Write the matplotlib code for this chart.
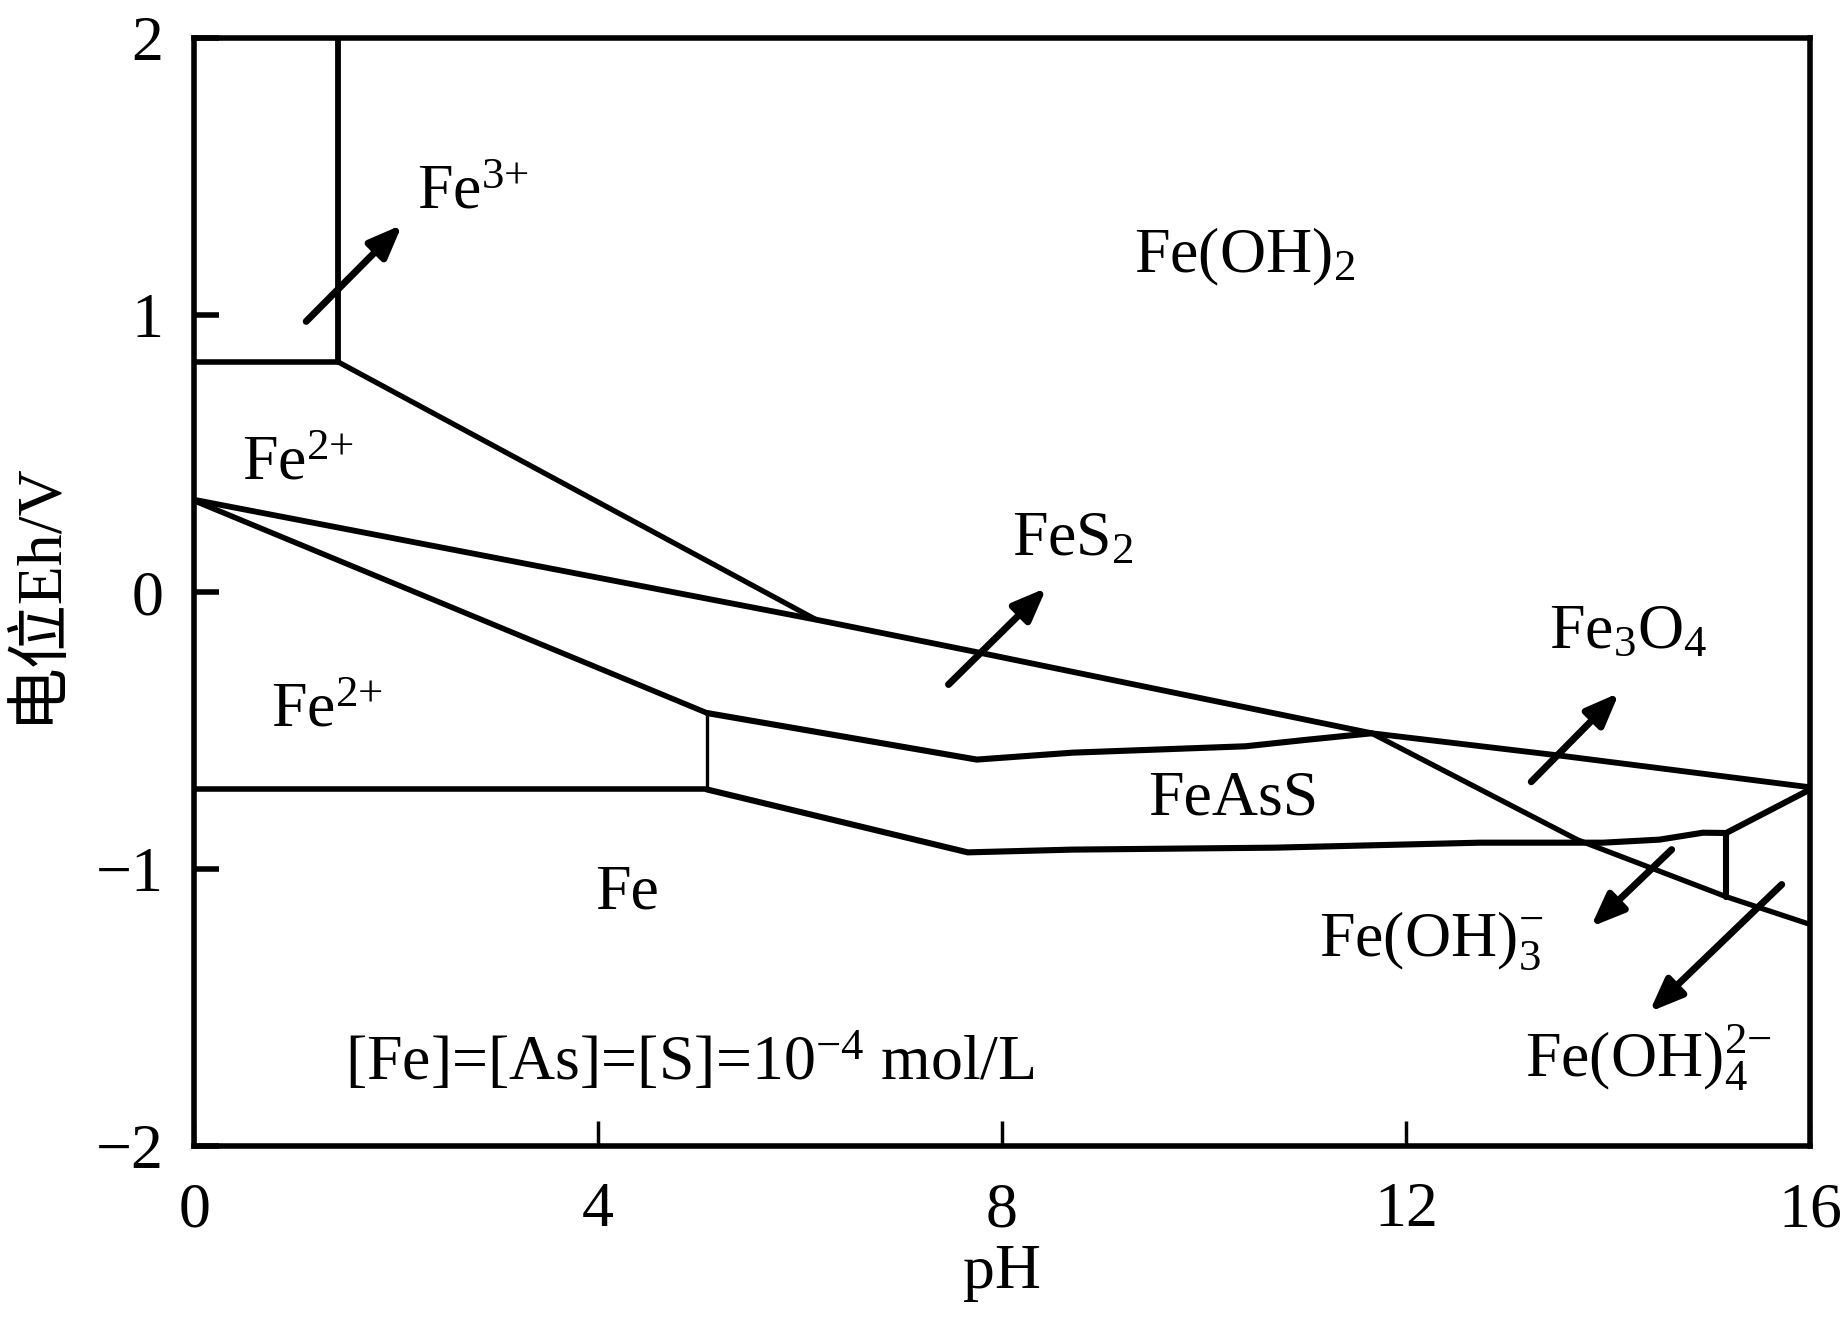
import numpy as np
import matplotlib.pyplot as plt

plt.rcParams['font.family'] = ['Liberation Serif', 'Noto Sans CJK SC']
plt.rcParams['mathtext.fontset'] = 'custom'
plt.rcParams['mathtext.rm'] = 'Liberation Serif'
plt.rcParams['mathtext.it'] = 'Liberation Serif:italic'

# boundary lines (pH, Eh/V)
fe3_vert_ph = [1.43, 1.43]
fe3_vert_eh = [2.0, 0.83]
fe3_horiz_ph = [0, 1.43]
fe3_horiz_eh = [0.83, 0.83]
fe3_diag_ph = [1.43, 6.16]
fe3_diag_eh = [0.83, -0.10]
upper_ph = [0, 6.16, 7.79, 11.66, 13.51, 16]
upper_eh = [0.333, -0.10, -0.22, -0.51, -0.59, -0.705]
fes2_low_ph = [0, 5.08]
fes2_low_eh = [0.33, -0.437]
fe2_vert_ph = [5.08, 5.08]
fe2_vert_eh = [-0.437, -0.713]
fe_horiz_ph = [0, 5.08]
fe_horiz_eh = [-0.713, -0.713]
feass_top_ph = [5.08, 7.75, 8.7, 10.41, 11.03, 11.66]
feass_top_eh = [-0.437, -0.605, -0.58, -0.557, -0.533, -0.51]
feass_bot_ph = [5.08, 7.66, 8.7, 10.7, 12.73, 13.95, 14.51, 14.94, 15.17, 16]
feass_bot_eh = [-0.713, -0.94, -0.93, -0.923, -0.905, -0.905, -0.894, -0.869, -0.87, -0.713]
fe3o4_diag_ph = [11.66, 13.7, 15.17, 16]
fe3o4_diag_eh = [-0.51, -0.895, -1.10, -1.20]
feoh3_vert_ph = [15.17, 15.17]
feoh3_vert_eh = [-0.87, -1.10]

lines = [
    (fe3_vert_ph, fe3_vert_eh, 4.2),
    (fe3_horiz_ph, fe3_horiz_eh, 4.0),
    (fe3_diag_ph, fe3_diag_eh, 3.8),
    (upper_ph, upper_eh, 4.2),
    (fes2_low_ph, fes2_low_eh, 4.0),
    (fe2_vert_ph, fe2_vert_eh, 2.4),
    (fe_horiz_ph, fe_horiz_eh, 4.0),
    (feass_top_ph, feass_top_eh, 4.4),
    (feass_bot_ph, feass_bot_eh, 4.4),
    (fe3o4_diag_ph, fe3o4_diag_eh, 3.8),
    (feoh3_vert_ph, feoh3_vert_eh, 4.4),
]

# arrows pointing to narrow fields
arrow_tail_ph = [1.11, 7.47, 13.24, 14.63, 15.72]
arrow_tail_eh = [0.977, -0.334, -0.685, -0.93, -1.056]
arrow_head_ph = [2.06, 8.44, 14.11, 13.83, 14.41]
arrow_head_eh = [1.326, 0.015, -0.364, -1.209, -1.516]

# field labels
label_text = [r'Fe$^{3{+}}$', r'Fe(OH)$_2$', r'Fe$^{2{+}}$', r'FeS$_2$', r'Fe$^{2{+}}$',
              r'Fe$_3$O$_4$', 'FeAsS', 'Fe', r'Fe(OH)$_3^{-}$',
              r'Fe(OH)$_4^{2{-}}$', r'[Fe]=[As]=[S]=10$^{-4}$ mol/L']
label_ph = [2.21, 9.31, 0.47, 8.1, 0.76, 13.42, 9.45, 3.97, 11.14, 13.18, 1.49]
label_eh = [1.44, 1.21, 0.46, 0.187, -0.43, -0.15, -0.75, -1.09, -1.26, -1.68, -1.70]

fig = plt.figure(figsize=(18.43, 13.40), dpi=100)
ax = fig.add_axes([0.1053, 0.1448, 0.8768, 0.8268])

for x, y, w in lines:
    ax.plot(x, y, color='black', lw=w, solid_capstyle='round', solid_joinstyle='round')

for x0, y0, x1, y1 in zip(arrow_tail_ph, arrow_tail_eh, arrow_head_ph, arrow_head_eh):
    ax.annotate('', xy=(x1, y1), xytext=(x0, y0),
                arrowprops=dict(arrowstyle='-|>,head_length=0.5,head_width=0.2',
                                color='black', lw=5, capstyle='round',
                                mutation_scale=40, shrinkA=0, shrinkB=0))

for t, x, y in zip(label_text, label_ph, label_eh):
    ax.text(x, y, t, fontsize=46, ha='left', va='center')

ax.set_xlim(0, 16)
ax.set_ylim(-2, 2)
ax.set_xticks([0, 4, 8, 12, 16])
ax.set_yticks([2, 1, 0, -1, -2])
ax.set_yticklabels(['2', '1', '0', '\u22121', '\u22122'])
ax.tick_params(direction='in', length=18, width=2.5, labelsize=46)
ax.tick_params(axis='x', pad=26)
ax.tick_params(axis='y', width=4, pad=22)
for s in ax.spines.values():
    s.set_linewidth(4.0)

ax.set_xlabel('pH', fontsize=46, labelpad=3)
ax.set_ylabel('电位Eh/V', fontsize=46, labelpad=20)

plt.savefig('out.png', dpi=100)
